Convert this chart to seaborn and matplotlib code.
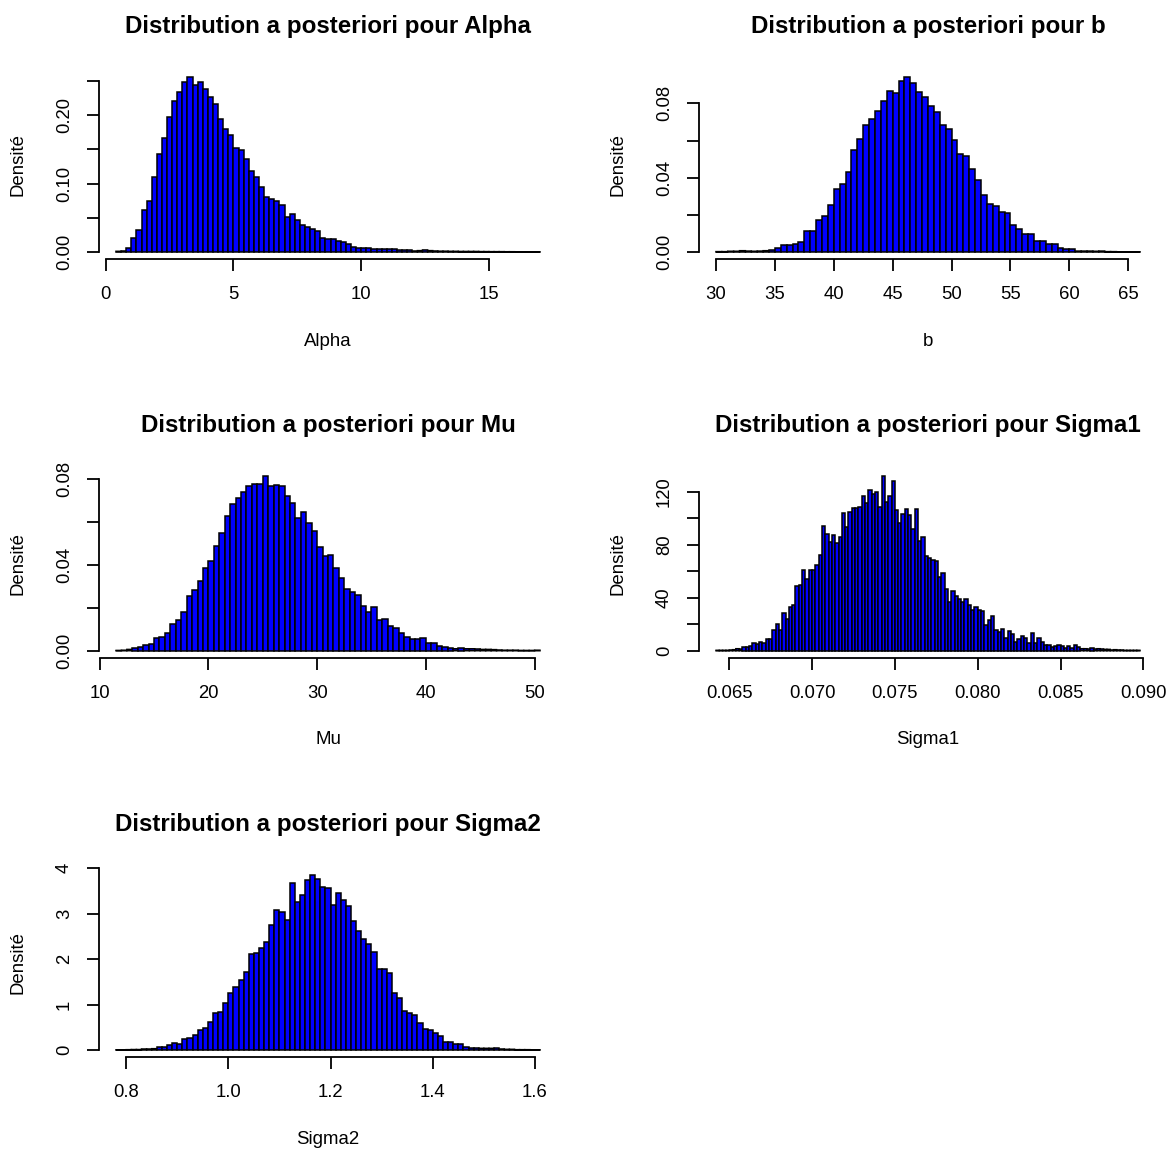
import matplotlib
matplotlib.use("Agg")
import matplotlib.pyplot as plt
import pandas as pd
import seaborn as sns

ALPHA_START, ALPHA_WIDTH = 0.4, 0.2
ALPHA_DENS = [
    0.001, 0.0015, 0.0063, 0.021, 0.032, 0.061, 0.074, 0.109, 0.144, 0.167,
    0.198, 0.221, 0.234, 0.248, 0.256, 0.244, 0.249, 0.238, 0.227, 0.217,
    0.195, 0.180, 0.171, 0.152, 0.149, 0.136, 0.118, 0.109, 0.095, 0.080,
    0.077, 0.074, 0.069, 0.051, 0.055, 0.047, 0.039, 0.036, 0.034, 0.030,
    0.021, 0.019, 0.0185, 0.0166, 0.014, 0.012, 0.008, 0.0063, 0.0063, 0.0054,
    0.0049, 0.0044, 0.0044, 0.0044, 0.0039, 0.0034, 0.0034, 0.0034, 0.0015, 0.002,
    0.003, 0.002, 0.0015, 0.0012, 0.0012, 0.001, 0.001, 0.0008, 0.0008, 0.0008,
    0.0008, 0.0006, 0.0006, 0.0005, 0.0005, 0.0005, 0.0004, 0.0004, 0.0003, 0.0003,
    0.0003, 0.0003, 0.0002,
]

B_START, B_WIDTH = 30.0, 0.5
B_DENS = [
    0.0002, 0.0002, 0.0004, 0.0004, 0.0007, 0.0005, 0.0004, 0.0005, 0.0007, 0.0013,
    0.0022, 0.0039, 0.0039, 0.0045, 0.0056, 0.0111, 0.0111, 0.0170, 0.0192, 0.0251,
    0.0339, 0.0364, 0.0430, 0.0547, 0.0610, 0.0682, 0.0716, 0.0757, 0.0811, 0.0868,
    0.0857, 0.0918, 0.0942, 0.0911, 0.0861, 0.0832, 0.0784, 0.0752, 0.0685, 0.0660,
    0.0604, 0.0527, 0.0517, 0.0447, 0.0389, 0.0307, 0.0258, 0.0249, 0.0213, 0.0210,
    0.0145, 0.0122, 0.0097, 0.0097, 0.0061, 0.0057, 0.0043, 0.0043, 0.0022, 0.0014,
    0.0018, 0.0005, 0.0005, 0.0005, 0.0004, 0.0005, 0.0002, 0.0002, 0.0001, 0.0001,
    0.0001, 0.0001,
]

MU_START, MU_WIDTH = 11.5, 0.5
MU_DENS = [
    0.0001, 0.0002, 0.0006, 0.0012, 0.0016, 0.0025, 0.0033, 0.0057, 0.0065, 0.0084,
    0.0124, 0.0144, 0.0179, 0.0253, 0.0281, 0.0326, 0.0384, 0.0418, 0.0489, 0.0550,
    0.0629, 0.0685, 0.0713, 0.0739, 0.0766, 0.0778, 0.0775, 0.0816, 0.0766, 0.0774,
    0.0769, 0.0722, 0.0687, 0.0621, 0.0646, 0.0595, 0.0559, 0.0482, 0.0440, 0.0446,
    0.0384, 0.0340, 0.0286, 0.0275, 0.0259, 0.0208, 0.0179, 0.0202, 0.0143, 0.0146,
    0.0117, 0.0104, 0.0084, 0.0064, 0.0053, 0.0053, 0.0057, 0.0036, 0.0034, 0.0020,
    0.0016, 0.0014, 0.0009, 0.0011, 0.0009, 0.0009, 0.0008, 0.0006, 0.0006, 0.0005,
    0.0003, 0.0002, 0.0002, 0.0002, 0.0001, 0.0001, 0.0001, 0.0002,
]

SIGMA1_START, SIGMA1_WIDTH = 0.0642, 0.0002
SIGMA1_DENS = [
    0.25, 0.25, 0.25, 0.25, 0.5, 0.76, 1.5, 1.26, 2.8, 2.5,
    3.3, 6.0, 5.0, 6.6, 5.8, 8.6, 8.6, 15.6, 20.2, 15.9,
    28.7, 23.9, 32.8, 34.3, 48.9, 49.9, 60.8, 54.2, 61.3, 61.3,
    64.5, 72.3, 94.5, 88.2, 81.9, 87.5, 81.7, 85.7, 103.9, 93.3,
    104.6, 107.6, 107.6, 108.4, 117.2, 111.4, 121.8, 118.5, 119.7, 108.9,
    132.3, 112.7, 117.0, 128.3, 106.1, 96.5, 103.1, 107.1, 102.3, 92.3,
    107.4, 82.7, 86.0, 71.3, 70.1, 68.8, 67.6, 55.7, 58.5, 46.9,
    36.6, 45.1, 41.3, 39.3, 37.1, 39.1, 34.3, 31.0, 33.0, 31.0,
    29.7, 19.7, 23.4, 26.5, 15.6, 14.1, 16.1, 9.8, 15.1, 12.6,
    6.3, 9.1, 11.1, 9.6, 5.5, 13.6, 5.8, 9.3, 6.6, 4.3,
    4.3, 2.5, 3.5, 4.0, 3.8, 2.3, 3.5, 2.3, 4.3, 2.8,
    1.5, 1.5, 1.3, 1.8, 1.3, 1.5, 1.3, 1.0, 1.0, 0.5,
    0.76, 0.5, 0.5, 0.25, 0.25, 0.25, 0.25, 0.25,
]

SIGMA2_START, SIGMA2_WIDTH = 0.78, 0.01
SIGMA2_DENS = [
    0.004, 0.005, 0.007, 0.01, 0.01, 0.022, 0.022, 0.029, 0.066, 0.066,
    0.117, 0.161, 0.125, 0.250, 0.272, 0.323, 0.448, 0.477, 0.624, 0.807,
    0.844, 1.028, 1.255, 1.394, 1.541, 1.725, 2.114, 2.128, 2.239, 2.385,
    2.752, 3.083, 3.031, 2.862, 3.684, 3.266, 3.413, 3.743, 3.853, 3.758,
    3.596, 3.574, 3.193, 3.450, 3.303, 3.178, 2.833, 2.613, 2.437, 2.327,
    2.150, 1.791, 1.791, 1.688, 1.262, 1.152, 0.866, 0.822, 0.771, 0.587,
    0.470, 0.448, 0.382, 0.308, 0.169, 0.169, 0.132, 0.132, 0.073, 0.051,
    0.051, 0.037, 0.037, 0.037, 0.051, 0.022, 0.015, 0.015, 0.007, 0.007,
    0.007, 0.004, 0.004,
]

# Graduations des axes
ALPHA_XTICKS = [0, 5, 10, 15]
B_XTICKS = [30, 35, 40, 45, 50, 55, 60, 65]
MU_XTICKS = [10, 20, 30, 40, 50]
SIGMA1_XTICKS = [0.065, 0.070, 0.075, 0.080, 0.085, 0.090]
SIGMA2_XTICKS = [0.8, 1.0, 1.2, 1.4, 1.6]

ALPHA_YTICKS = [0, 0.05, 0.10, 0.15, 0.20, 0.25]
ALPHA_YLABELS = ["0.00", "", "0.10", "", "0.20", ""]
B_YTICKS = [0, 0.02, 0.04, 0.06, 0.08]
B_YLABELS = ["0.00", "", "0.04", "", "0.08"]
MU_YTICKS = [0, 0.02, 0.04, 0.06, 0.08]
MU_YLABELS = ["0.00", "", "0.04", "", "0.08"]
SIGMA1_YTICKS = [0, 20, 40, 60, 80, 100, 120]
SIGMA1_YLABELS = ["0", "", "40", "", "80", "", "120"]
SIGMA2_YTICKS = [0, 1, 2, 3, 4]
SIGMA2_YLABELS = ["0", "1", "2", "3", "4"]

sns.set_style("ticks")
plt.rcParams["font.family"] = ["Liberation Sans", "DejaVu Sans"]
plt.rcParams["text.color"] = "black"
plt.rcParams["axes.labelcolor"] = "black"
plt.rcParams["axes.edgecolor"] = "black"

W, H = 1171, 1149
fig = plt.figure(figsize=(W / 100, H / 100), dpi=100)

# zone de tracé (pixels) : gauche, bas
PANEL_W, PANEL_H = 458, 189
COL_X = [99, 699]
ROW_BOTTOM = [259, 657.7, 1057]

TICK_FS = 13.3
LABEL_FS = 13.4
TITLE_FS = 17.4
LINE_W = 1.3


def draw_hist(ax, name, start, width, dens, xticks, xlabels, yticks, ylabels):
    n = len(dens)
    edges = [round(start + width * k, 8) for k in range(n + 1)]
    df = pd.DataFrame({
        "centre": [(edges[k] + edges[k + 1]) / 2 for k in range(n)],
        "densite": dens,
    })
    sns.histplot(
        data=df, x="centre", weights="densite", bins=edges, stat="count",
        color="#0000FF", edgecolor="black", linewidth=1.1, alpha=1,
        ax=ax,
    )
    ymax = max(dens)
    # les barres presque plates restent visibles (trait du bas)
    for p in ax.patches:
        if p.get_height() < 0.012 * ymax:
            p.set_snap(False)

    # marges façon R (4 %)
    pad_x = 0.04 * (edges[-1] - edges[0])
    ax.set_xlim(edges[0] - pad_x, edges[-1] + pad_x)
    ax.set_ylim(-0.04 * ymax, 1.04 * ymax)

    ax.set_xticks(xticks)
    ax.set_xticklabels(xlabels)
    ax.set_yticks(yticks)
    ax.set_yticklabels(ylabels)

    for side in ["top", "right"]:
        ax.spines[side].set_visible(False)
    ax.spines["left"].set_bounds(yticks[0], yticks[-1])
    ax.spines["bottom"].set_bounds(xticks[0], xticks[-1])
    ax.spines["left"].set_linewidth(LINE_W)
    ax.spines["bottom"].set_linewidth(LINE_W)

    ax.tick_params(axis="both", direction="out", length=8.4, width=LINE_W,
                   labelsize=TICK_FS, colors="black")
    ax.tick_params(axis="x", pad=17.5)
    ax.tick_params(axis="y", pad=16.5, labelrotation=90)
    for lab in ax.get_yticklabels():
        lab.set_va("center")
        lab.set_ha("center")
    for lab in ax.get_xticklabels():
        lab.set_va("center")

    ax.set_title(f"Distribution a posteriori pour {name}", fontsize=TITLE_FS,
                 fontweight="bold", y=1 + 43 / PANEL_H, va="center", pad=0)
    ax.set_xlabel(name, fontsize=LABEL_FS, va="center")
    ax.xaxis.set_label_coords(0.5, -82 / PANEL_H)
    ax.set_ylabel("Densité", fontsize=LABEL_FS, va="center", ha="center")
    ax.yaxis.set_label_coords(-81 / PANEL_W, 0.5)
    ax.grid(False)


panels = [
    ("Alpha", ALPHA_START, ALPHA_WIDTH, ALPHA_DENS, ALPHA_XTICKS,
     [str(v) for v in ALPHA_XTICKS], ALPHA_YTICKS, ALPHA_YLABELS),
    ("b", B_START, B_WIDTH, B_DENS, B_XTICKS,
     [str(v) for v in B_XTICKS], B_YTICKS, B_YLABELS),
    ("Mu", MU_START, MU_WIDTH, MU_DENS, MU_XTICKS,
     [str(v) for v in MU_XTICKS], MU_YTICKS, MU_YLABELS),
    ("Sigma1", SIGMA1_START, SIGMA1_WIDTH, SIGMA1_DENS, SIGMA1_XTICKS,
     [f"{v:.3f}" for v in SIGMA1_XTICKS], SIGMA1_YTICKS, SIGMA1_YLABELS),
    ("Sigma2", SIGMA2_START, SIGMA2_WIDTH, SIGMA2_DENS, SIGMA2_XTICKS,
     [f"{v:.1f}" for v in SIGMA2_XTICKS], SIGMA2_YTICKS, SIGMA2_YLABELS),
]

for i, p in enumerate(panels):
    row, col = divmod(i, 2)
    left = COL_X[col] / W
    bottom = (H - ROW_BOTTOM[row]) / H
    ax = fig.add_axes([left, bottom, PANEL_W / W, PANEL_H / H])
    draw_hist(ax, *p)

fig.savefig("out.png", dpi=100, facecolor="white")
